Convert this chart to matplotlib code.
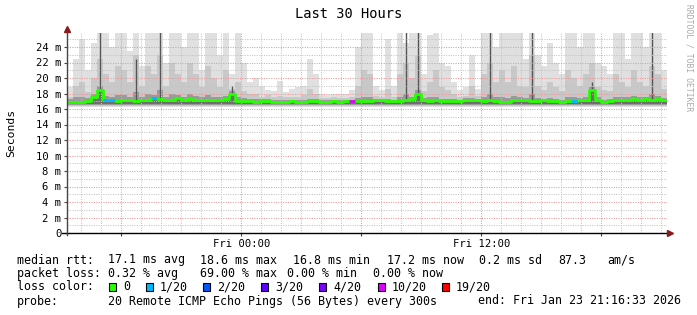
import matplotlib
matplotlib.use("Agg")
import matplotlib.pyplot as plt
import numpy as np
from matplotlib.ticker import MultipleLocator, FuncFormatter

plt.rcParams['font.family'] = ['DejaVu Sans Mono']

# time axis: hours relative to Fri 00:00, window of 30 hours ending Fri 21:16:33
t_start = -(8 + 43 / 60 + 27 / 3600)
t_end = t_start + 30
step_h = 0.3   # one smoke column every 18 minutes

# median rtt (ms)
median = [16.9, 16.9, 16.9, 17.0, 17.6, 18.5, 17.1, 17.1, 17.0, 17.1,
          17.1, 17.0, 17.2, 17.1, 17.4, 17.3, 17.1, 17.2, 17.4, 17.2,
          17.3, 17.1, 17.2, 17.1, 17.2, 17.1, 17.3, 17.9, 17.0, 17.0,
          17.0, 16.9, 17.0, 17.0, 16.9, 16.9, 16.9, 17.0, 16.9, 16.9,
          17.0, 17.0, 16.9, 16.9, 17.0, 16.9, 17.0, 17.0, 17.0, 17.0,
          17.0, 17.1, 17.1, 17.0, 17.0, 17.0, 17.1, 17.3, 17.9, 17.1,
          17.0, 17.1, 17.0, 17.0, 17.0, 17.0, 17.2, 17.1, 17.1, 17.0,
          17.1, 17.0, 16.9, 16.9, 17.1, 17.2, 17.1, 17.0, 17.0, 17.1,
          17.0, 17.0, 16.9, 17.0, 17.0, 17.1, 17.2, 18.4, 17.2, 16.9,
          17.0, 17.1, 17.2, 17.2, 17.3, 17.2, 17.3, 17.2, 17.3, 17.2]

# lost pings out of 20
loss = [0, 0, 0, 0, 0, 0, 1, 1, 0, 0,
        0, 0, 0, 0, 1, 0, 0, 0, 0, 0,
        0, 0, 0, 0, 0, 0, 0, 0, 0, 0,
        0, 0, 0, 0, 0, 0, 0, 0, 0, 0,
        0, 0, 0, 0, 0, 0, 0, 10, 0, 0,
        0, 0, 0, 0, 0, 0, 0, 0, 0, 0,
        0, 0, 0, 0, 0, 0, 0, 0, 0, 0,
        0, 0, 0, 0, 0, 0, 0, 0, 0, 0,
        0, 0, 0, 0, 1, 0, 0, 0, 0, 0,
        0, 0, 0, 0, 0, 0, 0, 0, 0, 0]

# smoke: slowest pings (light), upper quartile (mid), near-median band (dark)
smoke_max = [18.8, 22.5, 25.0, 21.0, 24.5, 26, 26, 24.0, 26, 26,
             23.5, 26, 21.5, 26, 26, 26, 22.0, 26, 26, 24.0,
             26, 26, 21.0, 26, 26, 23.0, 26, 20.5, 26, 22.0,
             19.5, 20.0, 19.0, 18.5, 18.3, 19.6, 18.2, 18.6, 18.8, 19.0,
             22.4, 20.5, 18.0, 17.8, 18.0, 17.9, 18.0, 18.4, 24.0, 26,
             26, 19.0, 18.5, 25.0, 19.0, 26, 24.5, 26, 26, 20.5,
             25.5, 26, 22.0, 21.5, 19.5, 18.5, 18.8, 23.0, 18.6, 26,
             26, 24.0, 26, 26, 26, 26, 22.5, 26, 23.0, 21.5,
             24.5, 22.0, 20.5, 26, 26, 24.0, 26, 26, 22.0, 21.5,
             20.5, 26, 26, 22.5, 26, 26, 24.0, 26, 26, 21.0]

smoke_mid = [17.6, 19.0, 19.5, 18.2, 20.0, 22.5, 20.5, 19.5, 21.5, 21.0,
             19.5, 23.0, 19.0, 21.5, 20.5, 23.0, 19.0, 22.0, 20.5, 19.5,
             22.0, 20.5, 18.8, 21.5, 20.0, 18.8, 21.0, 18.6, 19.5, 18.3,
             17.9, 18.0, 17.6, 17.8, 17.5, 17.7, 17.5, 17.5, 17.6, 17.8,
             18.6, 18.0, 17.4, 17.4, 17.5, 17.4, 17.4, 17.5, 19.0, 21.0,
             20.5, 17.7, 17.6, 18.6, 17.6, 20.5, 22.0, 20.0, 23.0, 18.3,
             19.5, 21.0, 18.8, 18.5, 18.0, 17.6, 17.7, 19.0, 17.7, 20.5,
             22.0, 19.5, 21.0, 19.5, 21.5, 19.0, 18.8, 23.0, 19.0, 18.5,
             19.5, 18.8, 18.3, 21.0, 20.0, 19.0, 20.5, 22.0, 18.8, 18.5,
             18.3, 20.5, 19.5, 18.8, 21.0, 19.5, 19.0, 21.5, 20.5, 18.6]

smoke_dark = [17.3, 17.5, 17.6, 17.4, 17.9, 19.0, 17.7, 17.6, 17.8, 17.8,
              17.6, 18.2, 17.6, 17.9, 17.8, 18.4, 17.6, 17.9, 17.8, 17.6,
              18.0, 17.7, 17.5, 17.8, 17.6, 17.5, 17.7, 18.3, 17.5, 17.4,
              17.3, 17.3, 17.3, 17.3, 17.2, 17.2, 17.2, 17.2, 17.2, 17.2,
              17.3, 17.3, 17.1, 17.1, 17.2, 17.1, 17.2, 17.2, 17.4, 17.6,
              17.5, 17.3, 17.3, 17.3, 17.2, 17.5, 17.9, 17.6, 18.4, 17.4,
              17.5, 17.6, 17.3, 17.3, 17.3, 17.2, 17.4, 17.4, 17.3, 17.5,
              18.0, 17.5, 17.6, 17.4, 17.7, 17.5, 17.4, 18.0, 17.4, 17.3,
              17.4, 17.3, 17.2, 17.5, 17.5, 17.4, 17.6, 18.9, 17.5, 17.2,
              17.3, 17.5, 17.5, 17.5, 17.7, 17.5, 17.5, 17.9, 17.7, 17.4]

# narrow dark cores: (column index, top in ms)
core_idx = [5, 11, 15, 27, 56, 58, 70, 77, 87, 97]
core_top = [26, 22.5, 26, 19.0, 26, 26, 26, 26, 19.5, 26]

loss_levels = [0, 1, 2, 3, 4, 10, 19]
loss_colors = ['#26ff00', '#00b8ff', '#0059ff', '#5e00ff', '#7e00ff', '#dd00ff', '#ff0000']
loss_names = ['0', '1/20', '2/20', '3/20', '4/20', '10/20', '19/20']

n = len(median)
edges = t_start + step_h * np.arange(n + 1)
mid_t = edges[:-1] + step_h / 2

fig = plt.figure(figsize=(6.97, 3.15), dpi=100)
W, H = 697, 315
ax = fig.add_axes([67 / W, (H - 233) / H, 600 / W, 200 / H])
ymax = 200 / 7.75

def stepped(v):
    return np.append(v, v[-1])

ax.fill_between(edges, 16.3, stepped(smoke_max), step='post', color='#e0e0e0', lw=0, zorder=1)
ax.fill_between(edges, 16.4, stepped(smoke_mid), step='post', color='#c8c8c8', lw=0, zorder=1.1)
ax.fill_between(edges, 16.5, stepped(smoke_dark), step='post', color='#9a9a9a', lw=0, zorder=1.2)
ax.fill_between(edges, 16.6, stepped(median), step='post', color='#6e6e6e', lw=0, zorder=1.25)
ax.vlines(mid_t[core_idx], np.array(median)[core_idx], core_top, color='#555555', lw=1.0, zorder=1.3)

# grid on top of the smoke, like rrdtool
ax.xaxis.set_major_locator(MultipleLocator(6))
ax.xaxis.set_minor_locator(MultipleLocator(1))
ax.yaxis.set_major_locator(MultipleLocator(2))
ax.yaxis.set_minor_locator(MultipleLocator(1))
ax.grid(which='major', color='#e89a9a', lw=0.75, ls=(0, (1, 1.3)), zorder=2)
ax.grid(which='minor', color='#c4c4c4', lw=0.75, ls=(0, (1, 1.3)), zorder=2)

# median line, coloured by loss
ax.step(edges, stepped(median), where='post', color=loss_colors[0], lw=2.0, zorder=3)
for i in range(n):
    if loss[i] > 0:
        c = loss_colors[loss_levels.index(loss[i])]
        ax.hlines(median[i], edges[i], edges[i + 1], color=c, lw=2.0, zorder=3.5)

ax.set_xlim(t_start, t_end)
ax.set_ylim(0, ymax)
for s in ax.spines.values():
    s.set_visible(False)

def xfmt(v, pos):
    if abs(v % 12) < 1e-6:
        return 'Fri %02d:00' % int(round(v))
    return ''

def yfmt(v, pos):
    return '0' if v == 0 else '%d m' % v

ax.xaxis.set_major_formatter(FuncFormatter(xfmt))
ax.yaxis.set_major_formatter(FuncFormatter(yfmt))
ax.tick_params(which='both', labelsize=7.6, length=2, width=0.8, color='#444444', pad=2)
ax.tick_params(which='minor', length=0)

# axes with arrows
ax.plot([t_start - 0.25, t_end + 0.1], [0, 0], color='black', lw=1, clip_on=False, zorder=4)
ax.plot([t_start, t_start], [-0.3, ymax + 0.4], color='#444444', lw=1, clip_on=False, zorder=4)
ax.plot([t_end + 0.15], [0], marker='>', color='#8b1a1a', ms=4, clip_on=False, zorder=5)
ax.plot([t_start], [ymax + 0.5], marker='^', color='#8b1a1a', ms=4, clip_on=False, zorder=5)

fig.text(0.5, 1 - 14 / H, 'Last 30 Hours', ha='center', va='center', fontsize=9.9)
fig.text(11 / W, 1 - 133 / H, 'Seconds', rotation=90, ha='center', va='center', fontsize=8.2)
fig.text(689 / W, 1 - 58 / H, 'RRDTOOL / TOBI OETIKER', rotation=270, ha='center', va='center',
         fontsize=5.8, color='#aaaaaa')

fs = 8.4
def put(x, y, s, **kw):
    fig.text(x / W, 1 - y / H, s, ha='left', va='center', fontsize=fs, **kw)

line1 = [(17, 'median rtt:'), (108, '17.1 ms avg'), (200, '18.6 ms max'), (293, '16.8 ms min'),
         (387, '17.2 ms now'), (479, '0.2 ms sd'), (558, '87.3'), (607, 'am/s')]
line2 = [(17, 'packet loss:'), (108, '0.32 % avg'), (200, '69.00 % max'), (287, '0.00 % min'),
         (373, '0.00 % now')]
line4 = [(17, 'probe:'), (108, '20 Remote ICMP Echo Pings (56 Bytes) every 300s'),
         (478, 'end: Fri Jan 23 21:16:33 2026')]
for x, s in line1:
    put(x, 260, s)
for x, s in line2:
    put(x, 273.5, s)
for x, s in line4:
    put(x, 301, s)

put(17, 287, 'loss color:')
box_x = [109, 146, 203, 261, 319, 378, 442]
for bx, c, name in zip(box_x, loss_colors, loss_names):
    fig.patches.append(plt.Rectangle((bx / W, 1 - 291 / H), 7 / W, 8 / H, transform=fig.transFigure,
                                     facecolor=c, edgecolor='black', lw=0.8))
    put(bx + 14, 287, name)

fig.savefig('out.png', dpi=100)
